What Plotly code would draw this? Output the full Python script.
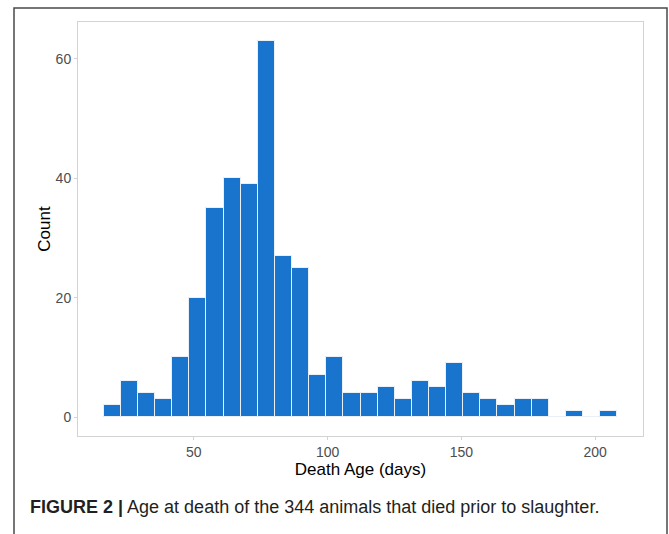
import plotly.graph_objects as go

# Histogram counts (30 bins, ggplot-style)
counts = [2, 6, 4, 3, 10, 20, 35, 40, 39, 63,
          27, 25, 7, 10, 4, 4, 5, 3, 6, 5,
          9, 4, 3, 2, 3, 3, 0, 1, 0, 1]
first_center = 19.5   # days, centre of first bin (minimum age)
bin_width = 6.4       # days
centers = [first_center + i * bin_width for i in range(len(counts))]

x_ticks = [50, 100, 150, 200]
y_ticks = [0, 20, 40, 60]
x_title = "Death Age (days)"
y_title = "Count"
caption_bold = "FIGURE 2 |"
caption_text = " Age at death of the 344 animals that died prior to slaughter."

fig = go.Figure()
fig.add_trace(go.Bar(
    x=centers, y=counts, width=bin_width,
    marker=dict(color="#1874CD", line=dict(color="#EAF0F8", width=1)),
    hoverinfo="x+y",
))

lo = centers[0] - bin_width / 2
hi = centers[-1] + bin_width / 2
pad = 0.05 * (hi - lo)
ymax = max(counts)

axis_common = dict(
    showgrid=False, zeroline=False,
    showline=True, linecolor="#D3D3D3", linewidth=1, mirror=True,
    ticks="outside", ticklen=3, tickcolor="#D3D3D3", tickwidth=1,
    tickfont=dict(family="Liberation Sans, Arial, sans-serif", size=14, color="#4D4D4D"),
)

W, H = 669, 534
L, R, T, B = 78, 26, 22, 98
pw, ph = W - L - R, H - T - B

fig.update_layout(
    width=W, height=H,
    margin=dict(l=L, r=R, t=T, b=B),
    paper_bgcolor="white", plot_bgcolor="white",
    showlegend=False, bargap=0,
    xaxis=dict(range=[lo - pad, hi + pad], tickvals=x_ticks,
               title=dict(text=x_title, standoff=0,
                          font=dict(family="Liberation Sans, Arial, sans-serif", size=17, color="black")),
               **axis_common),
    yaxis=dict(range=[-0.05 * ymax, 1.05 * ymax], tickvals=y_ticks,
               title=dict(text=y_title, standoff=0,
                          font=dict(family="Liberation Sans, Arial, sans-serif", size=17, color="black")),
               **axis_common),
)

# outer figure frame (left, top, right edges)
fig.add_shape(type="rect", xref="paper", yref="paper",
              x0=(14 - L) / pw, x1=(667 - L) / pw,
              y0=-0.6, y1=(H - B - 8) / ph,
              line=dict(color="#4A4A4A", width=1.5), fillcolor="rgba(0,0,0,0)", layer="above")

fig.add_annotation(
    xref="paper", yref="paper", x=(28 - L) / pw, y=(H - B - 507) / ph,
    xanchor="left", yanchor="middle", showarrow=False,
    text="<b>" + caption_bold + "</b>" + caption_text,
    font=dict(family="Liberation Sans, Arial, sans-serif", size=18, color="#231F20"),
)

fig.write_html("out.html", config={"displayModeBar": False},
               post_script="document.body.style.margin='0';document.body.style.padding='0';document.body.style.overflow='hidden';")
